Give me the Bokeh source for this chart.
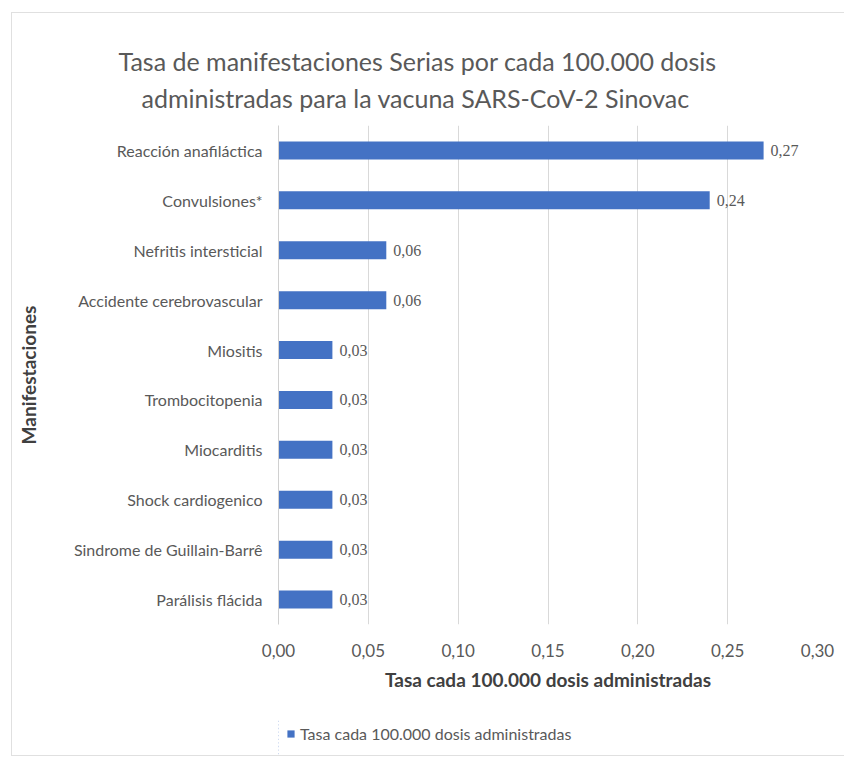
from bokeh.plotting import figure
from bokeh.layouts import column
from bokeh.models import (ColumnDataSource, FactorRange, FixedTicker, CustomJSTickFormatter,
                          Legend, LegendItem, LabelSet, Title, Range1d)
from bokeh.embed import file_html
from bokeh.resources import INLINE

categories = ["Reacción anafiláctica", "Convulsiones*", "Nefritis intersticial",
              "Accidente cerebrovascular", "Miositis", "Trombocitopenia", "Miocarditis",
              "Shock cardiogenico", "Sindrome de Guillain-Barrê", "Parálisis flácida"]
values = [0.27, 0.24, 0.06, 0.06, 0.03, 0.03, 0.03, 0.03, 0.03, 0.03]
value_labels = ["0,27", "0,24", "0,06", "0,06", "0,03", "0,03", "0,03", "0,03", "0,03", "0,03"]
x_ticks = [0.0, 0.05, 0.10, 0.15, 0.20, 0.25, 0.30]
title_lines = ["Tasa de manifestaciones Serias por cada 100.000 dosis",
               "administradas para la vacuna SARS-CoV-2 Sinovac"]
series_name = "Tasa cada 100.000 dosis administradas"

FONT = "Lato"
GREY = "#595959"
DARK = "#404040"
BLUE = "#4472C4"

# ---- main chart ----
src = ColumnDataSource(dict(cat=categories, val=values, lab=value_labels))

p = figure(frame_width=539, frame_height=499, output_backend="svg", toolbar_location=None,
           y_range=FactorRange(factors=list(reversed(categories))),
           x_range=Range1d(0, 0.30),
           min_border_left=266, min_border_right=27, min_border_bottom=95, min_border_top=112)

r = p.hbar(y="cat", right="val", left=0, height=0.36, source=src, color=BLUE, line_color=None)

labels = LabelSet(x="val", y="cat", text="lab", source=src, x_offset=7, y_offset=0,
                  text_baseline="middle", text_font=FONT, text_font_size="16px", text_color=GREY)
p.add_layout(labels)

# titles: p.title is outermost; among added ones, earlier = closer to the plot
p.title.text = title_lines[0]
p.title.align = "left"
p.title.offset = -160
p.title.text_font = FONT
p.title.text_font_size = "25px"
p.title.text_font_style = "normal"
p.title.text_color = GREY
p.title.standoff = 4
spacer_top = Title(text=" ", text_font_size="7px", standoff=0)
p.add_layout(spacer_top, "above")
t2 = Title(text=title_lines[1], align="left", offset=-137,
           text_font=FONT, text_font_size="25px", text_font_style="normal", text_color=GREY,
           standoff=7)
p.add_layout(t2, "above")

p.xaxis.ticker = FixedTicker(ticks=x_ticks)
p.xaxis.formatter = CustomJSTickFormatter(code="return tick.toFixed(2).replace('.', ',');")
p.xaxis.axis_line_color = None
p.xaxis.major_tick_line_color = None
p.xaxis.minor_tick_line_color = None
p.xaxis.major_label_text_font = FONT
p.xaxis.major_label_text_font_size = "17px"
p.xaxis.major_label_text_color = GREY
p.xaxis.major_label_standoff = 13
p.xaxis.axis_label = series_name
p.xaxis.axis_label_text_font = FONT
p.xaxis.axis_label_text_font_size = "19px"
p.xaxis.axis_label_text_font_style = "bold"
p.xaxis.axis_label_text_color = DARK
p.xaxis.axis_label_standoff = 8

p.yaxis.axis_line_color = "#d0d0d0"
p.yaxis.major_tick_line_color = None
p.yaxis.minor_tick_line_color = None
p.yaxis.major_label_text_font = FONT
p.yaxis.major_label_text_font_size = "16px"
p.yaxis.major_label_text_color = GREY
p.yaxis.major_label_standoff = 10
p.yaxis.axis_label = "Manifestaciones"
p.yaxis.axis_label_text_font = FONT
p.yaxis.axis_label_text_font_size = "19px"
p.yaxis.axis_label_text_font_style = "bold"
p.yaxis.axis_label_text_color = DARK
p.yaxis.axis_label_standoff = 31

p.xgrid.grid_line_color = "#d9d9d9"
p.ygrid.grid_line_color = None
p.outline_line_color = None

# ---- footer with the legend (its frame lines up with the chart frame) ----
# the footer re-uses the same series; its x range lies beyond the data so only the key shows
foot = figure(width=832, height=36, output_backend="svg", toolbar_location=None,
              x_axis_type=None, y_axis_type=None,
              x_range=Range1d(1, 2), y_range=FactorRange(factors=list(reversed(categories))),
              min_border=0, min_border_left=0, min_border_right=0,
              min_border_top=0, min_border_bottom=0)
foot.grid.visible = False
foot.outline_line_color = None
foot.title.visible = False
key = foot.hbar(y="cat", right="val", left=0, height=0.36, source=src, color=BLUE, line_color=None)
legend = Legend(items=[LegendItem(label=series_name, renderers=[key])],
                orientation="horizontal", location=(8, 12),
                label_text_font=FONT, label_text_font_size="16px", label_text_color=GREY,
                glyph_width=9, glyph_height=9, label_height=16, label_standoff=5,
                border_line_color=None, background_fill_alpha=0, padding=0, margin=0)
foot.add_layout(legend, "center")

layout = column(p, foot, spacing=0)
layout.styles = {"border": "1px solid #e0e0e0", "margin-left": "11px", "margin-top": "12px"}

open("out.html", "w").write(file_html(layout, INLINE))
